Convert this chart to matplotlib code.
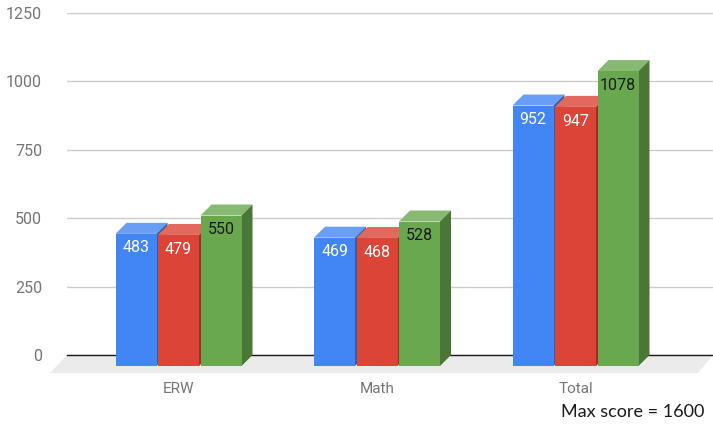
import matplotlib
matplotlib.use("Agg")
import matplotlib.pyplot as plt

# ======================================================
# DATA
# ======================================================
categories = ["ERW", "Math", "Total"]
series_a = [483, 469, 952]
series_b = [479, 468, 947]
series_c = [550, 528, 1078]
y_ticks = [0, 250, 500, 750, 1000, 1250]

# ======================================================
# CONFIG
# ======================================================
W, H = 713, 424
LEFT, RIGHT, TOP, BASE = 67, 713, 13, 355   # plot box in pixels
GROUP_PX = 198.5                            # distance between groups
FIRST_PX = 178.5                            # centre of first group
PX_PER_UNIT = (BASE - TOP) / 1250

DX = 11 / GROUP_PX      # depth of the fake 3D
DY = 11 / PX_PER_UNIT
BAR_W = 41 / GROUP_PX
STEP = 42.5 / GROUP_PX

plt.rcParams["font.family"] = ["Roboto", "DejaVu Sans"]

fig = plt.figure(figsize=(W / 100, H / 100), dpi=100)
ax = fig.add_axes([LEFT / W, 1 - BASE / H, (RIGHT - LEFT) / W, (BASE - TOP) / H])
x_min = (LEFT - FIRST_PX) / GROUP_PX
x_max = (RIGHT - FIRST_PX) / GROUP_PX
ax.set_xlim(x_min, x_max)
ax.set_ylim(0, 1250)

# floor
floor_y = -18 / PX_PER_UNIT
ax.fill([x_min, x_max, x_max - 15 / GROUP_PX, x_min - 17 / GROUP_PX],
        [0, 0, floor_y, floor_y],
        color="#ebebeb", lw=0, clip_on=False, zorder=1)

# ======================================================
# BARS
# ======================================================
styles = [
    (series_a, -STEP, "#4285f4", "#6a9df6", "#2f5eac", "white", -14),
    (series_b, 0, "#db4437", "#e3695f", "#992f27", "white", -15),
    (series_c, STEP, "#6aa84f", "#88b972", "#4a7637", "#1a1a1a", -14),
]

z = 3
for values, off, front, top, side, txt, lab_off in styles:
    for i, v in enumerate(values):
        x0 = i + off - BAR_W / 2
        x1 = x0 + BAR_W
        ax.fill([x0, x0 + DX, x1 + DX, x1], [v - DY, v, v, v - DY],
                color=top, lw=0, clip_on=False, zorder=z)
        ax.fill([x1, x1 + DX, x1 + DX, x1], [v - DY, v, 0, -DY],
                color=side, lw=0, clip_on=False, zorder=z)
        ax.bar(i + off, v, width=BAR_W, bottom=-DY, color=front, lw=0,
               clip_on=False, zorder=z + 0.1)
        ax.annotate(str(v), xy=(i + off, v - DY),
                    xytext=(0, lab_off * 0.72), textcoords="offset points",
                    ha="center", va="center", fontsize=11.5, color=txt,
                    zorder=z + 0.2, annotation_clip=False)
    z += 1

# ======================================================
# AXES
# ======================================================
ax.set_yticks(y_ticks)
ax.set_xticks(range(len(categories)))
ax.set_xticklabels(categories)
ax.tick_params(axis="y", length=0, pad=18, labelsize=11.5, labelcolor="#757575")
ax.tick_params(axis="x", length=0, pad=19.5, labelsize=11, labelcolor="#757575")
ax.grid(axis="y", color="#cccccc", lw=1)
ax.set_axisbelow(True)
for name in ["top", "left", "right"]:
    ax.spines[name].set_visible(False)
ax.spines["bottom"].set_color("#1a1a1a")
ax.spines["bottom"].set_linewidth(1)
ax.spines["bottom"].set_zorder(2)

fig.text(561 / W, 1 - 412 / H, "Max score = 1600", family="Lato", fontsize=13,
         color="#1a1a1a", ha="left", va="center")

fig.savefig("out.png", dpi=100)
plt.close(fig)
